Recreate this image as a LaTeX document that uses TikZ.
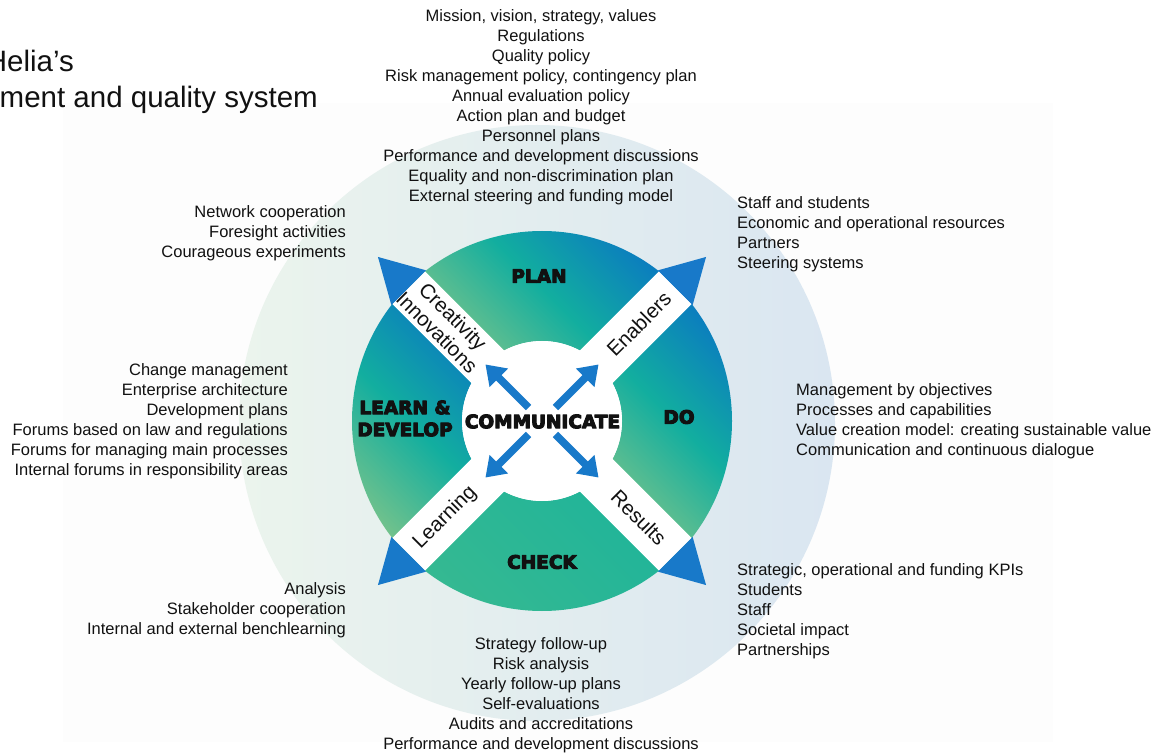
\documentclass[tikz,border=0pt]{standalone}
\usepackage{fontspec}
\setmainfont{Liberation Sans}
\newfontfamily\blk{DejaVu Sans}
\newcommand\heavytxt[1]{\special{pdf:literal direct 2 Tr 1.0 w 1 j}#1\special{pdf:literal direct 0 Tr}}
\usetikzlibrary{calc,arrows.meta}
\definecolor{qgreen}{HTML}{7CC48A}
\definecolor{qteal}{HTML}{12AE9F}
\definecolor{qblue}{HTML}{0A78C2}
\definecolor{cteal}{HTML}{1FB49A}
\definecolor{cgreen}{HTML}{36B991}
\definecolor{tri}{HTML}{1879C9}
\definecolor{outg}{HTML}{EBF4ED}
\definecolor{outb}{HTML}{DAE6F1}
\definecolor{bgr}{HTML}{FDFDFD}
\definecolor{txt}{HTML}{111111}
\begin{document}
\begin{tikzpicture}[x=1pt,y=1pt,
  body/.style={font=\fontsize{16.5}{20}\selectfont, inner sep=0pt, text=txt},
  title/.style={font=\fontsize{29.5}{36}\selectfont, inner sep=0pt, text=txt},
  quad/.style={font=\blk\bfseries\fontsize{18.5}{22}\selectfont, text=txt, inner sep=0pt, align=center},
  band/.style={font=\fontsize{20.5}{22.5}\selectfont, text=txt, inner sep=0pt, align=center},
  arr/.style={line width=7.5pt, draw=tri, -{Triangle[width=25pt,length=19pt]}},
]
\useasboundingbox (0,0) rectangle (1164,753);
\begin{scope}
\clip (0,0) rectangle (1164,753);
\fill[bgr] (63,11) rectangle (1053,650);
\node[title, anchor=base east] (t1) at (74,681) {Helia’s};
\node[title, anchor=base east] (t2) at (318,645) {ment and quality system};
\end{scope}

\coordinate (C) at (542,332);
\shade[left color=outg, right color=outb] (537,330) circle[radius=298];

% quadrants
\shade[top color=qblue, bottom color=qgreen, middle color=qteal, shading angle=-45]
  ($(C)+(45:190)$) arc[start angle=45,end angle=135,radius=190] -- ($(C)+(135:80)$) arc[start angle=135,end angle=45,radius=80] -- cycle;
\shade[top color=qblue, bottom color=qgreen, middle color=qteal, shading angle=-45]
  ($(C)+(-45:190)$) arc[start angle=-45,end angle=45,radius=190] -- ($(C)+(45:80)$) arc[start angle=45,end angle=-45,radius=80] -- cycle;
\shade[top color=qblue, bottom color=qgreen, middle color=qteal, shading angle=-45]
  ($(C)+(135:190)$) arc[start angle=135,end angle=225,radius=190] -- ($(C)+(225:80)$) arc[start angle=225,end angle=135,radius=80] -- cycle;
\shade[top color=cteal, bottom color=cgreen, shading angle=-45]
  ($(C)+(225:190)$) arc[start angle=225,end angle=315,radius=190] -- ($(C)+(315:80)$) arc[start angle=315,end angle=225,radius=80] -- cycle;

% white bands and triangles
\foreach \t in {45,135,225,315}{
  \fill[white] ($(C)+(\t:188.6)+(\t+90:23)$) -- ($(C)+(\t+90:23)$) -- ($(C)+(\t-90:23)$) -- ($(C)+(\t:188.6)+(\t-90:23)$) -- cycle;
  \fill[tri] ($(C)+(\t:188.6)+(\t+90:24.5)$) -- ($(C)+(\t:232)$) -- ($(C)+(\t:188.6)+(\t-90:24.5)$) -- cycle;
}
\fill[white] (C) circle[radius=80];

% central arrows
\foreach \t in {45,135,225,315}{
  \coordinate (s\t) at ($(C)+(\t:19)$);
  \coordinate (e\t) at ($(C)+(\t:80)$);
  \draw[arr] (s\t) -- (e\t);
}

% quadrant labels
\node[quad] (plan) at (539,477) {\heavytxt{PLAN}};
\node[quad] (do) at (679,336) {\heavytxt{DO}};
\node[quad] (check) at (542,191) {\heavytxt{CHECK}};
\node[quad] (learn) at (405,334.5) {\heavytxt{LEARN \&}\\\heavytxt{DEVELOP}};
\node[quad] (comm) at (542.5,331.5) {\heavytxt{COMMUNICATE}};

% band labels
\node[band, rotate=45] (enab) at ($(C)+(45:137)$) {Enablers};
\node[band, rotate=-45] (res) at ($(C)+(-45:137)$) {Results};
\node[band, rotate=45] (lrn) at ($(C)+(225:137)$) {Learning};
\node[band, rotate=-45] (cre) at ($(C)+(135:137)$) {Creativity\\Innovations};

% text blocks
\node[body, align=center] (top) at (541,646) {Mission, vision, strategy, values\\Regulations\\Quality policy\\Risk management policy, contingency plan\\Annual evaluation policy\\Action plan and budget\\Personnel plans\\Performance and development discussions\\Equality and non-discrimination plan\\External steering and funding model};
\node[body, align=right, anchor=east] (tl) at (346,520) {Network cooperation\\Foresight activities\\Courageous experiments};
\node[body, align=left, anchor=west] (tr) at (737,519) {Staff and students\\Economic and operational resources\\Partners\\Steering systems};
\node[body, align=right, anchor=east] (lf) at (288,332) {Change management\\Enterprise architecture\\Development plans\\Forums based on law and regulations\\Forums for managing main processes\\Internal forums in responsibility areas};
\node[body, align=left, anchor=west] (rt) at (796,332) {Management by objectives\\Processes and capabilities\\Value creation model: creating sustainable value\\Communication and continuous dialogue};
\node[body, align=right, anchor=east] (bl) at (346,143) {Analysis\\Stakeholder cooperation\\Internal and external benchlearning};
\node[body, align=left, anchor=west] (br) at (737,142) {Strategic, operational and funding KPIs\\Students\\Staff\\Societal impact\\Partnerships};
\node[body, align=center] (bot) at (541,58) {Strategy follow-up\\Risk analysis\\Yearly follow-up plans\\Self-evaluations\\Audits and accreditations\\Performance and development discussions};
\end{tikzpicture}
\end{document}
